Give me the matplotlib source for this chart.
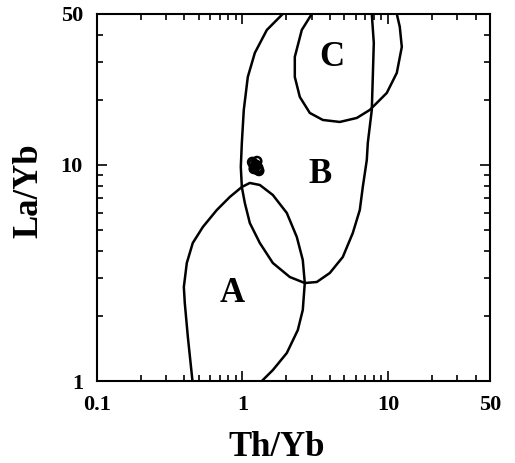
import numpy as np
import matplotlib.pyplot as plt
from matplotlib.ticker import LogLocator, NullFormatter, FixedLocator, FixedFormatter

plt.rcParams['font.family'] = ['Liberation Serif', 'DejaVu Serif']
plt.rcParams['font.weight'] = 'bold'

# field A (open at the bottom axis)
a_th = [0.454, 0.422, 0.402, 0.396, 0.415, 0.456, 0.535, 0.667, 0.819, 0.991, 1.124,
        1.317, 1.618, 2.018, 2.364, 2.598, 2.682, 2.598, 2.402, 2.018, 1.618, 1.359]
a_la = [1.0, 1.598, 2.296, 2.724, 3.518, 4.353, 5.164, 6.188, 7.108, 7.907, 8.252,
        8.078, 7.261, 5.994, 4.641, 3.632, 2.842, 2.132, 1.722, 1.348, 1.124, 1.0]

# field B (cut by the top axis)
b_th = [1.895, 1.472, 1.217, 1.089, 1.022, 0.991, 0.975, 0.991, 1.039, 1.124, 1.317,
        1.618, 2.116, 2.682, 3.243, 3.983, 4.893, 5.731, 6.401, 6.712, 7.151, 7.265,
        7.739, 7.863, 7.988, 7.739]
b_la = [50.0, 42.15, 32.99, 25.54, 17.97, 12.64, 9.786, 7.907, 6.668, 5.388, 4.353,
        3.518, 3.03, 2.842, 2.873, 3.162, 3.75, 4.843, 6.188, 7.907, 10.55, 12.64,
        17.97, 25.54, 36.7, 50.0]

# field C (cut by the top axis)
c_th = [2.997, 2.558, 2.29, 2.29, 2.479, 2.904, 3.566, 4.666, 6.105, 7.499, 9.81,
        11.49, 12.44, 12.05, 11.49]
c_la = [50.0, 42.15, 31.61, 25.54, 20.64, 17.4, 16.15, 15.81, 16.5, 17.97, 21.54,
        26.66, 35.16, 43.52, 50.0]

# samples
s_th = [1.17, 1.22, 1.27, 1.24, 1.30, 1.20, 1.26, 1.23, 1.28, 1.19]
s_la = [10.3, 9.8, 9.5, 10.0, 9.4, 9.6, 10.4, 9.9, 9.7, 10.1]

fields = ['A', 'B', 'C']
field_th = [0.845, 3.40, 4.11]
field_la = [2.53, 8.99, 31.3]

x_ticks = [0.1, 1, 10, 50]
x_labels = ['0.1', '1', '10', '50']
y_ticks = [1, 10, 50]
y_labels = ['1', '10', '50']

fig = plt.figure(figsize=(5.15, 4.63), dpi=100)
ax = fig.add_axes([0.188, 0.177, 0.763, 0.793])

for th, la in [(a_th, a_la), (b_th, b_la), (c_th, c_la)]:
    ax.plot(th, la, color='black', lw=1.8, solid_joinstyle='round', solid_capstyle='round')

ax.scatter(s_th, s_la, s=38, facecolors='none', edgecolors='black', linewidths=1.8, zorder=3)

for name, th, la in zip(fields, field_th, field_la):
    ax.text(th, la, name, fontsize=25, fontweight='bold', ha='center', va='center')

ax.set_xscale('log')
ax.set_yscale('log')
ax.set_xlim(0.1, 50)
ax.set_ylim(1, 50)

ax.xaxis.set_major_locator(FixedLocator(x_ticks))
ax.xaxis.set_major_formatter(FixedFormatter(x_labels))
ax.yaxis.set_major_locator(FixedLocator(y_ticks))
ax.yaxis.set_major_formatter(FixedFormatter(y_labels))
ax.xaxis.set_minor_locator(LogLocator(base=10, subs=np.arange(2, 10)))
ax.yaxis.set_minor_locator(LogLocator(base=10, subs=np.arange(2, 10)))
ax.xaxis.set_minor_formatter(NullFormatter())
ax.yaxis.set_minor_formatter(NullFormatter())

ax.tick_params(which='both', direction='in', top=True, right=True, width=1.2)
ax.tick_params(which='major', length=7, labelsize=16, pad=10)
ax.tick_params(which='minor', length=4)
for sp in ax.spines.values():
    sp.set_linewidth(1.5)

ax.set_xlabel('Th/Yb', fontsize=25, fontweight='bold')
ax.set_ylabel('La/Yb', fontsize=25, fontweight='bold')
ax.xaxis.set_label_coords(0.458, -0.135)
ax.yaxis.set_label_coords(-0.13, 0.518)

fig.savefig('out.png', dpi=100)
